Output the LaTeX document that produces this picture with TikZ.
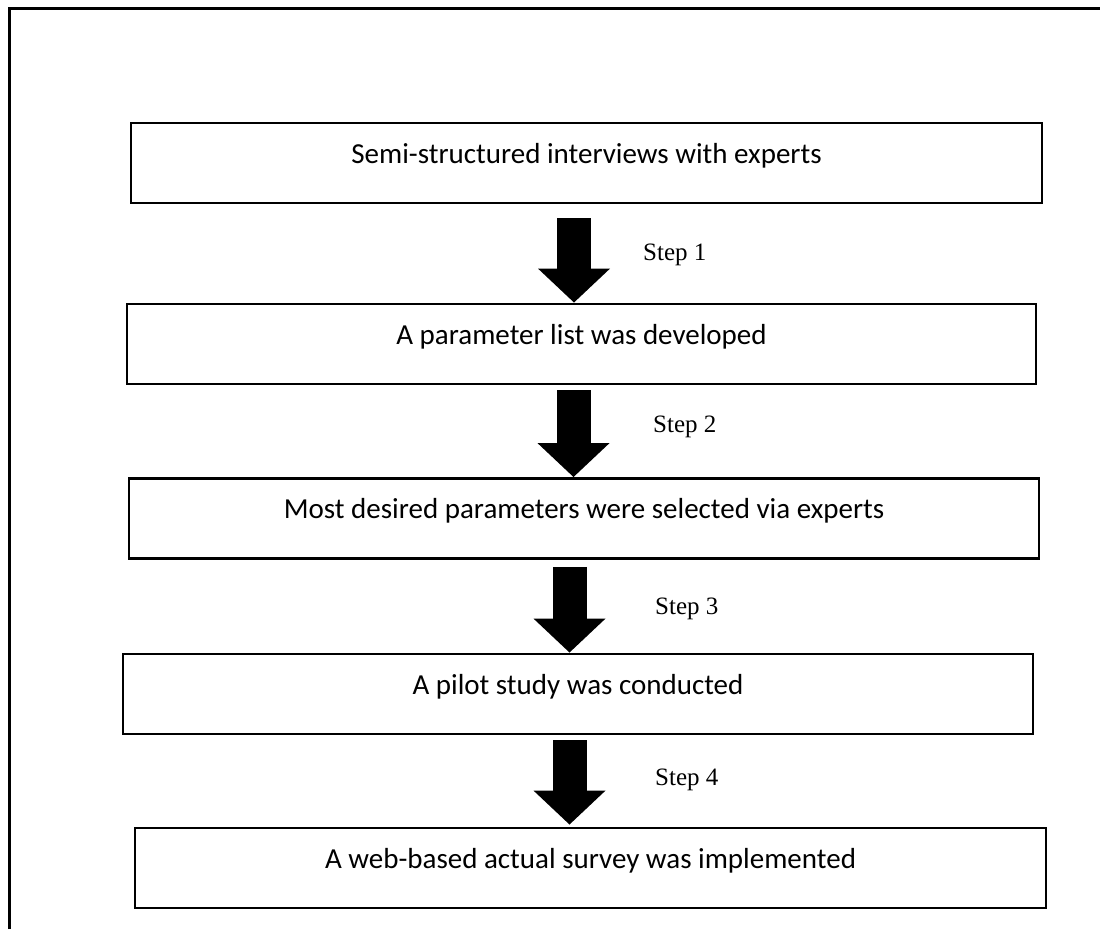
\documentclass[tikz,border=0pt]{standalone}
\usepackage{fontspec}
\setmainfont{Carlito}
\newfontfamily\stepfont{Liberation Serif}
\usetikzlibrary{arrows.meta}

\tikzset{
  flowbox/.style={draw,line width=2.8pt,minimum height=80pt,inner sep=0pt,
    text height=10pt,text depth=10pt,font=\fontsize{29}{34}\selectfont},
  steplabel/.style={anchor=base west,inner sep=0pt,font=\stepfont\fontsize{25}{30}\selectfont},
  blockarrow/.style={line width=34pt,-{Triangle[length=34pt,width=70pt]}}
}

\begin{document}
\begin{tikzpicture}[x=1pt,y=-1pt]
\useasboundingbox (0,0) rectangle (1100,929);

\draw[line width=3pt] (9,929) -- (9,8) -- (1100,8);

\node[flowbox,minimum width=911pt] (b1) at (586.5,163) {Semi-structured interviews with experts};
\node[flowbox,minimum width=909pt] (b2) at (581.5,344) {A parameter list was developed};
\node[flowbox,minimum width=910pt] (b3) at (584,518.5) {Most desired parameters were selected via experts};
\node[flowbox,minimum width=910pt] (b4) at (578,694) {A pilot study was conducted};
\node[flowbox,minimum width=911pt] (b5) at (590.5,868) {A web-based actual survey was implemented};

\draw[blockarrow] ([xshift=-12.5pt,yshift=-14pt]b1.south) -- ([xshift=-7.5pt]b2.north);
\draw[blockarrow] ([xshift=-8pt,yshift=-5pt]b2.south) -- ([xshift=-10.5pt]b3.north);
\draw[blockarrow] ([xshift=-14.5pt,yshift=-7pt]b3.south) -- ([xshift=-8.5pt]b4.north);
\draw[blockarrow] ([xshift=-8.5pt,yshift=-5pt]b4.south) -- ([xshift=-21pt,yshift=2pt]b5.north);

\node[steplabel] (s1) at (643,260) {Step 1};
\node[steplabel] (s2) at (653,432) {Step 2};
\node[steplabel] (s3) at (655,614) {Step 3};
\node[steplabel] (s4) at (655,785) {Step 4};
\end{tikzpicture}
\end{document}
